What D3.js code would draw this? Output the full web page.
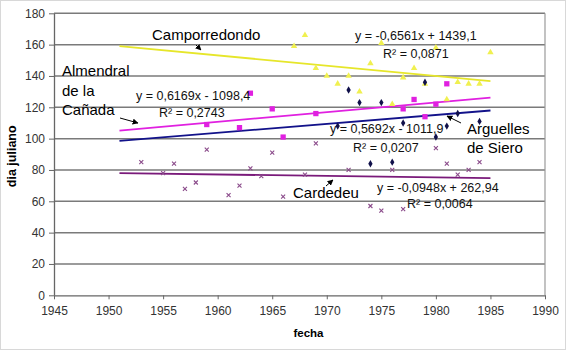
<!DOCTYPE html>
<html>
<head>
<meta charset="utf-8">
<script src="https://cdn.jsdelivr.net/npm/d3@7"></script>
<style>
  body { margin: 0; background: #fff; }
  svg { display: block; font-family: Arial, "Liberation Sans", sans-serif; }
</style>
</head>
<body>
<div id="chart"></div>
<script>
// Camporredondo (amarillo, triángulos)
const campYears  = [1967, 1968, 1969, 1970, 1971, 1972, 1973, 1974, 1975, 1976, 1977, 1978, 1979, 1980, 1981, 1982, 1983, 1984, 1985];
const campValues = [159, 166, 145, 140, 135, 140, 130, 148, 161, 122, 139, 145, 135, 158, 125, 136, 135, 135, 155];
// Almendral de la Cañada (magenta, cuadrados)
const almYears  = [1959, 1962, 1963, 1965, 1966, 1969, 1977, 1978, 1979, 1980, 1981];
const almValues = [109, 107, 129, 119, 101, 116, 119, 125, 114, 122, 135];
// Arguelles de Siero (azul marino, rombos)
const argYears  = [1971, 1972, 1973, 1974, 1975, 1976, 1977, 1979, 1980, 1981, 1982, 1984];
const argValues = [108, 131, 123, 84, 123, 85, 110, 136, 101, 108, 116, 111];
// Cardedeu (morado, aspas)
const carYears  = [1953, 1955, 1956, 1957, 1958, 1959, 1961, 1962, 1963, 1964, 1965, 1966, 1968, 1969, 1972, 1974, 1975, 1976, 1977, 1980, 1981, 1982, 1983, 1984];
const carValues = [85, 78, 84, 68, 72, 93, 64, 70, 81, 76, 91, 63, 77, 97, 80, 57, 54, 80, 55, 94, 84, 77, 80, 85];

// líneas de tendencia (de las ecuaciones del gráfico)
const trendNames      = ['camp', 'alm', 'arg', 'car'];
const trendSlopes     = [-0.6561, 0.6169, 0.5692, -0.0948];
const trendIntercepts = [1439.1, -1098.4, -1011.9, 262.94];
const trendRange      = [1951, 1985];

const xTicks = [1945, 1950, 1955, 1960, 1965, 1970, 1975, 1980, 1985, 1990];
const yTicks = [0, 20, 40, 60, 80, 100, 120, 140, 160, 180];

const width = 566, height = 350;
const plotLeft = 54, plotRight = 545, plotTop = 13.3, plotBottom = 295.3;

const svg = d3.select('#chart').append('svg')
    .attr('width', width)
    .attr('height', height);

svg.append('rect')
    .attr('x', 0.5).attr('y', 0.5)
    .attr('width', width - 1).attr('height', height - 1)
    .attr('fill', '#fff')
    .attr('stroke', '#d8d8d8');

const x = d3.scaleLinear().domain([1945, 1990]).range([plotLeft, plotRight]);
const y = d3.scaleLinear().domain([0, 180]).range([plotBottom, plotTop]);

// rejilla horizontal
svg.append('g').selectAll('line')
    .data(yTicks.filter(v => v > 0))
    .enter().append('line')
    .attr('x1', plotLeft).attr('x2', plotRight)
    .attr('y1', d => y(d)).attr('y2', d => y(d))
    .attr('stroke', '#7a7a7a')
    .attr('stroke-width', 1.5);

// borde derecho
svg.append('line')
    .attr('x1', plotRight).attr('x2', plotRight)
    .attr('y1', plotTop).attr('y2', plotBottom)
    .attr('stroke', '#9a9a9a')
    .attr('stroke-width', 1.2);

const xAxis = svg.append('g')
    .attr('transform', `translate(0,${plotBottom})`)
    .call(d3.axisBottom(x).tickValues(xTicks).tickFormat(d3.format('d')).tickSize(4).tickSizeOuter(0));
const yAxis = svg.append('g')
    .attr('transform', `translate(${plotLeft},0)`)
    .call(d3.axisLeft(y).tickValues(yTicks).tickSize(5).tickSizeOuter(0));

[xAxis, yAxis].forEach(a => {
    a.select('.domain').attr('stroke', '#666').attr('stroke-width', 1.3);
    a.selectAll('.tick line').attr('stroke', '#666');
    a.selectAll('.tick text')
        .style('font-family', 'Arial, "Liberation Sans", sans-serif')
        .style('font-size', '12px')
        .attr('fill', '#333');
});
xAxis.selectAll('.tick text').attr('dy', '1.05em');
yAxis.selectAll('.tick text').attr('x', -9);

// títulos de ejes
svg.append('text')
    .attr('x', (plotLeft + plotRight) / 2 + 9).attr('y', 337)
    .attr('text-anchor', 'middle')
    .style('font-size', '11.5px').style('font-weight', 'bold')
    .text('fecha');
svg.append('text')
    .attr('transform', `translate(16,${(plotTop + plotBottom) / 2 + 2}) rotate(-90)`)
    .attr('text-anchor', 'middle')
    .style('font-size', '12.5px').style('font-weight', 'bold')
    .text('dia juliano');

// tendencias
const trendColors = { camp: '#e6e62a', alm: '#e020e0', arg: '#12128a', car: '#7a1a7a' };
trendNames.forEach((name, i) => {
    const pts = trendRange.map(yr => [yr, trendSlopes[i] * yr + trendIntercepts[i]]);
    svg.append('line')
        .attr('x1', x(pts[0][0])).attr('y1', y(pts[0][1]))
        .attr('x2', x(pts[1][0])).attr('y2', y(pts[1][1]))
        .attr('stroke', trendColors[name])
        .attr('stroke-width', 1.8);
});

// puntos
function zip(years, values) { return years.map((yr, i) => ({ year: yr, value: values[i] })); }

svg.append('g').selectAll('path')
    .data(zip(campYears, campValues))
    .enter().append('path')
    .attr('transform', d => `translate(${x(d.year)},${y(d.value)})`)
    .attr('d', d3.symbol().type(d3.symbolTriangle).size(18))
    .attr('fill', '#f0f050');

svg.append('g').selectAll('path')
    .data(zip(almYears, almValues))
    .enter().append('path')
    .attr('transform', d => `translate(${x(d.year)},${y(d.value)})`)
    .attr('d', d3.symbol().type(d3.symbolSquare).size(28))
    .attr('fill', '#e020e0');

svg.append('g').selectAll('path')
    .data(zip(argYears, argValues))
    .enter().append('path')
    .attr('transform', d => `translate(${x(d.year)},${y(d.value)})`)
    .attr('d', d3.symbol().type(d3.symbolDiamond).size(16))
    .attr('fill', '#10104a');

svg.append('g').selectAll('path')
    .data(zip(carYears, carValues))
    .enter().append('path')
    .attr('transform', d => `translate(${x(d.year)},${y(d.value)})`)
    .attr('d', 'M-2,-2L2,2M-2,2L2,-2')
    .attr('stroke', '#8a4a8a')
    .attr('stroke-width', 1.1)
    .attr('fill', 'none');

// nombres de estaciones
const bigLabels = [
    { t: 'Camporredondo', x: 152, y: 40 },
    { t: 'Almendral', x: 62, y: 76 },
    { t: 'de la', x: 62, y: 96 },
    { t: 'Cañada', x: 62, y: 115 },
    { t: 'Arguelles', x: 467, y: 134 },
    { t: 'de Siero', x: 467, y: 153 },
    { t: 'Cardedeu', x: 293, y: 198 }
];
svg.append('g').selectAll('text')
    .data(bigLabels)
    .enter().append('text')
    .attr('x', d => d.x).attr('y', d => d.y)
    .style('font-size', '15px')
    .attr('fill', '#000')
    .text(d => d.t);

// ecuaciones
const eqLabels = [
    { t: 'y = -0,6561x + 1439,1', x: 355, y: 40 },
    { t: 'R² = 0,0871', x: 383, y: 58 },
    { t: 'y = 0,6169x - 1098,4', x: 136, y: 100 },
    { t: 'R² = 0,2743', x: 159, y: 117 },
    { t: 'y = 0,5692x - 1011,9', x: 330, y: 133 },
    { t: 'R² = 0,0207', x: 353, y: 152 },
    { t: 'y = -0,0948x + 262,94', x: 377, y: 192 },
    { t: 'R² = 0,0064', x: 407, y: 208 }
];
svg.append('g').selectAll('text')
    .data(eqLabels)
    .enter().append('text')
    .attr('x', d => d.x).attr('y', d => d.y)
    .style('font-size', '12.5px')
    .attr('fill', '#111')
    .text(d => d.t);

// flechas
svg.append('defs').append('marker')
    .attr('id', 'arr')
    .attr('viewBox', '0 0 10 10')
    .attr('refX', 9).attr('refY', 5)
    .attr('markerWidth', 6).attr('markerHeight', 6)
    .attr('orient', 'auto')
    .append('path').attr('d', 'M0,0L10,5L0,10z').attr('fill', '#000');

const arrows = [
    [196, 45, 201, 50],
    [120, 118, 138, 123],
    [461, 123, 447, 116],
    [326, 186, 333, 180]
];
svg.append('g').selectAll('line')
    .data(arrows)
    .enter().append('line')
    .attr('x1', d => d[0]).attr('y1', d => d[1])
    .attr('x2', d => d[2]).attr('y2', d => d[3])
    .attr('stroke', '#000')
    .attr('stroke-width', 1)
    .attr('marker-end', 'url(#arr)');
</script>
</body>
</html>
